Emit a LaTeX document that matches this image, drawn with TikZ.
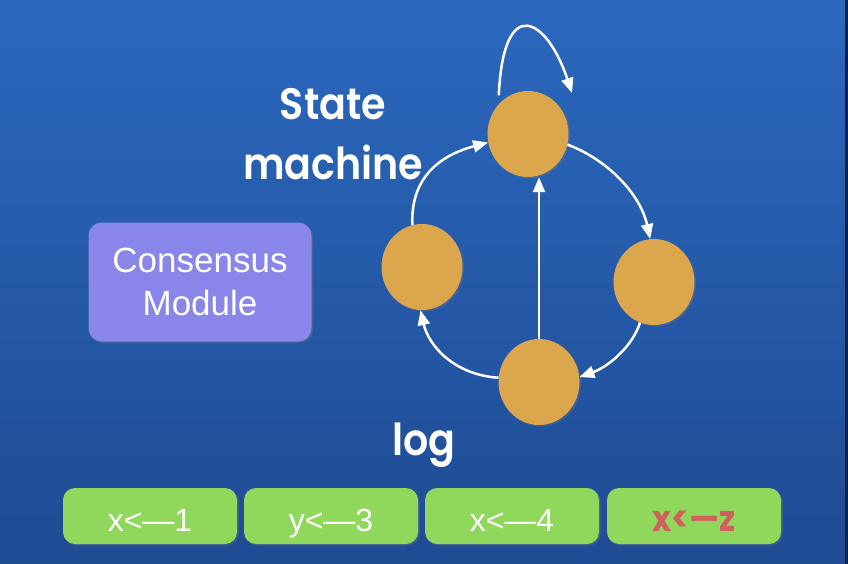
\documentclass[tikz,border=0pt]{standalone}
\usepackage{fontspec}
\setmainfont{Liberation Sans}
\newfontfamily\futura[FakeStretch=0.9,BoldFont={Poppins SemiBold}]{Poppins}
\newfontfamily\futuraheavy[FakeStretch=0.9]{Poppins Bold}
\usetikzlibrary{shapes.geometric}
\usetikzlibrary{arrows.meta}
\usetikzlibrary{shadows}

\definecolor{bgtop}{HTML}{2B68BE}
\definecolor{bgbot}{HTML}{1F4B93}
\definecolor{bgedge}{HTML}{14213F}
\definecolor{statefill}{HTML}{DCA64C}
\definecolor{modfill}{HTML}{8A85E8}
\definecolor{logfill}{HTML}{8FD85B}
\definecolor{redtext}{HTML}{CF605B}

\begin{document}
\begin{tikzpicture}[x=1pt,y=-1pt,
    state/.style={ellipse,fill=statefill,minimum width=81pt,minimum height=86pt,inner sep=0pt,
        drop shadow={opacity=0.3,shadow xshift=1.5pt,shadow yshift=-1.5pt}},
    modbox/.style={rounded corners=13pt,fill=modfill,minimum width=223pt,minimum height=119pt,
        align=center,text=white,font=\fontsize{35}{43}\selectfont,
        drop shadow={opacity=0.3,shadow xshift=1.5pt,shadow yshift=-1.5pt}},
    logbox/.style={rounded corners=12pt,fill=logfill,minimum width=174pt,minimum height=56pt,
        text height=32pt,text depth=2pt,inner sep=0pt,
        text=white,font=\fontsize{32}{38}\selectfont,
        drop shadow={opacity=0.3,shadow xshift=1.5pt,shadow yshift=-1.5pt}},
    title/.style={text=white,font=\futura\bfseries\fontsize{44}{60}\selectfont},
    edge/.style={white,line width=2.5pt,arrows=-{Triangle[length=15pt,width=12pt]}}]

            %\draw [help lines,step=50] (0,0) grid (848,564);

            \useasboundingbox (0,0) rectangle (848,564);
            \shade[top color=bgtop,bottom color=bgbot] (0,0) rectangle (848,564);
            \fill[bgedge] (845,0) rectangle (848,564);

            \path   (528,134) node (st) [state] {}
                    (654,282) node (sr) [state] {}
                    (539,382) node (sb) [state] {}
                    (422,267) node (sl) [state] {};

            \path   (200,282) node (cm) [modbox] {Consensus\\Module};

            \path   (333,134) node (sm) [title,align=center] {State\\machine}
                    (424,455) node (lg) [title,anchor=base] {log};

            \path   (150,516) node (e1) [logbox] {x<—1}
                    (331,516) node (e2) [logbox] {y<—3}
                    (512,516) node (e3) [logbox] {x<—4}
                    (694,516) node (e4) [logbox,text=redtext,font=\futuraheavy\fontsize{36}{40}\selectfont] {x<—z};

            \path (st) ++(44,-41) coordinate (stloop);

            \draw[edge,shorten <=9pt] (node cs: name=st, angle=135) .. controls +(5,-112) and +(-25,-75) .. (stloop);
            \draw[edge] (node cs: name=st, angle=-15) .. controls +(40,15) and +(-10,-45) .. (node cs: name=sr, angle=95);
            \draw[edge] (node cs: name=sr, angle=251) .. controls +(-8,25) and +(28,-10) .. (node cs: name=sb, angle=7);
            \draw[edge] (node cs: name=sb, angle=174) .. controls +(-45,-3) and +(8,35) .. (node cs: name=sl, angle=268);
            \draw[edge] (node cs: name=sl, angle=103) .. controls +(-2,-50) and +(-45,12) .. (node cs: name=st, angle=192);
            \draw[edge] (sb.north) -- (sb.north |- st.south);
        \end{tikzpicture}
\end{document}
